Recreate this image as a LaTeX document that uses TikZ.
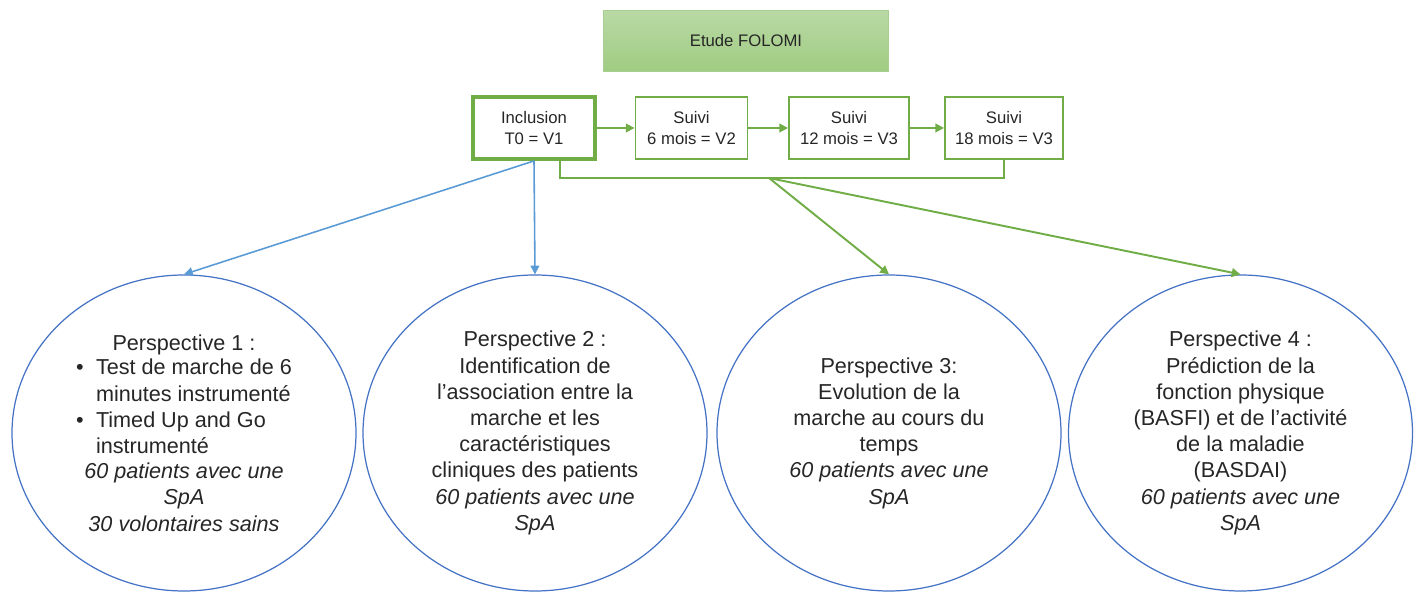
\documentclass[tikz,border=0pt]{standalone}
\usepackage{fontspec}
\setmainfont{Liberation Sans}
\usetikzlibrary{arrows.meta, shapes.geometric}
\definecolor{folomiGreen}{HTML}{70AD47}
\definecolor{folomiTop}{HTML}{B9D9A5}
\definecolor{folomiBottom}{HTML}{A0CC82}
\definecolor{folomiBlue}{HTML}{5B9BD5}
\definecolor{folomiNavy}{HTML}{4472C4}
\definecolor{folomiText}{HTML}{262626}

\begin{document}
\begin{tikzpicture}[
  >={Triangle[length=5pt, width=5pt]},
  font=\fontsize{9.5}{11.9}\selectfont,
  text=folomiText,
  flow/.style={->, line width=1.1pt, draw=folomiGreen},
  connector/.style={line width=1.1pt, draw=folomiGreen},
  link/.style={->, line width=0.9pt, draw=folomiBlue},
  visitbox/.style={draw=folomiGreen, line width=1.1pt, fill=white, align=center, minimum height=1.24cm, inner sep=2pt},
  persp/.style={ellipse, draw=folomiNavy, line width=0.7pt, align=center, minimum width=6.88cm, minimum height=6.32cm, inner sep=0pt, font=\fontsize{12.3}{14.9}\selectfont}
]

  \useasboundingbox (0,0) rectangle (28.46,11.84);

  \node[draw=folomiGreen!60, top color=folomiTop, bottom color=folomiBottom, minimum width=5.7cm, minimum height=1.22cm] (etude) at (14.92,11.02)
    {Etude FOLOMI};

  \node[visitbox, line width=2.2pt, minimum width=2.44cm] (incl) at (10.68,9.28) {Inclusion\\T0 = V1};
  \node[visitbox, minimum width=2.24cm] (suiviA) at (13.83,9.28) {Suivi\\6 mois = V2};
  \node[visitbox, minimum width=2.40cm] (suiviB) at (16.98,9.28) {Suivi\\12 mois = V3};
  \node[visitbox, minimum width=2.36cm] (suiviC) at (20.08,9.28) {Suivi\\18 mois = V3};

  \node[persp] (pA) at (3.68,3.18)
    {Perspective 1 :\\
     \begin{tabular}{@{}l@{\hspace{7pt}}l@{}}
       \textbullet & Test de marche de 6\\
                   & minutes instrumenté\\
       \textbullet & Timed Up and Go\\
                   & instrumenté
     \end{tabular}\\
     \textit{60 patients avec une}\\ \textit{SpA}\\ \textit{30 volontaires sains}};
  \node[persp] (pB) at (10.70,3.18)
    {Perspective 2 :\\Identification de\\l’association entre la\\marche et les\\caractéristiques\\cliniques des patients\\
     \textit{60 patients avec une}\\ \textit{SpA}};
  \node[persp] (pC) at (17.78,3.18)
    {Perspective 3:\\Evolution de la\\marche au cours du\\temps\\
     \textit{60 patients avec une}\\ \textit{SpA}};
  \node[persp] (pD) at (24.81,3.18)
    {Perspective 4 :\\Prédiction de la\\fonction physique\\(BASFI) et de l’activité\\de la maladie\\(BASDAI)\\
     \textit{60 patients avec une}\\ \textit{SpA}};

  \foreach \a/\b in {incl/suiviA, suiviA/suiviB, suiviB/suiviC}
    \draw[flow] (\a.east) -- (\b.west);

  \coordinate (bus) at (15.38,8.28);
  \draw[connector] ([xshift=0.52cm]incl.south) |- (bus) -| (suiviC.south);
  \draw[flow] (bus) -- (pC.north);
  \draw[flow] (bus) -- (pD.north);

  \draw[link] (incl.south) -- (pA.north);
  \draw[link] (incl.south) -- (pB.north);

\end{tikzpicture}
\end{document}
